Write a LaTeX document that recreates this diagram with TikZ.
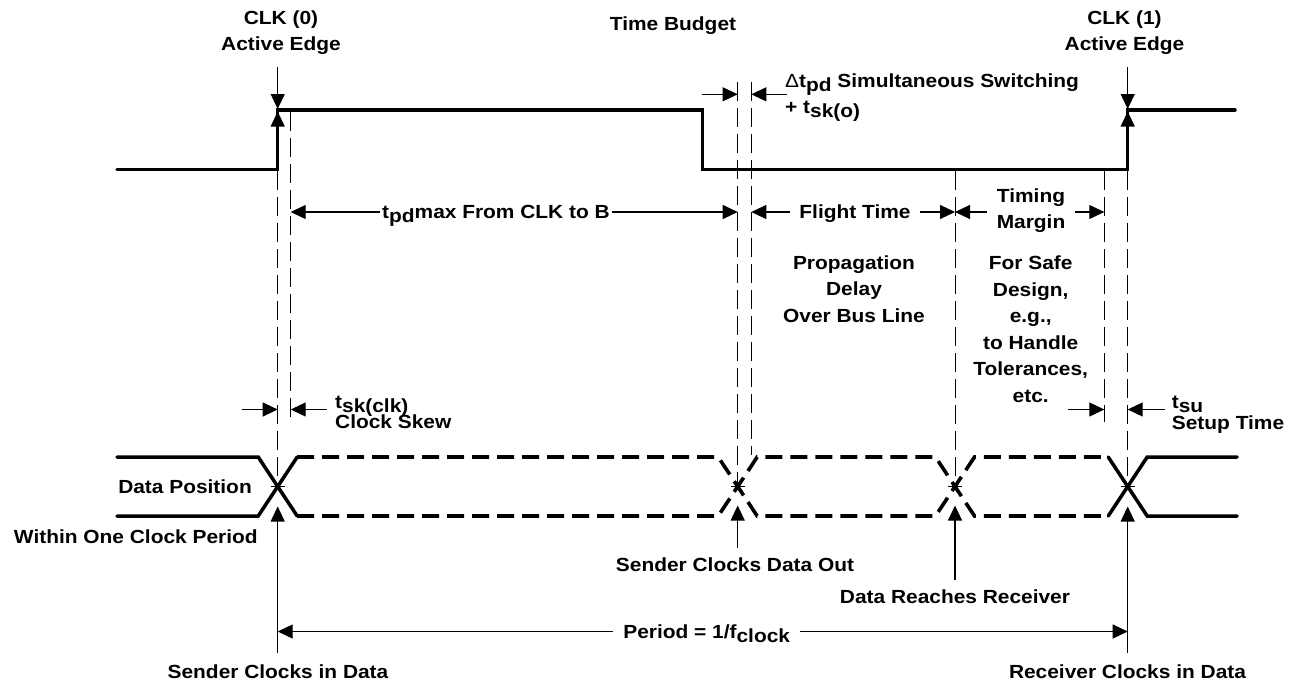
\documentclass[tikz,border=0pt]{standalone}
\usepackage{fontspec}
\setmainfont{Liberation Sans}[FakeStretch=1.1]
\usetikzlibrary{arrows.meta}
\newcommand{\lowsub}[1]{\raisebox{-4pt}{#1}}
\begin{document}
\begin{tikzpicture}[x=1pt,y=-1pt,
  lbl/.style={font=\fontsize{19}{26.5}\selectfont\bfseries, inner sep=0pt},
  sig/.style={line width=3.5pt, line cap=round},
  sigdash/.style={line width=3.6pt, dash pattern=on 17pt off 8pt},
  thinl/.style={line width=1.1pt},
  dimarrow/.style={line width=1.1pt, -{Triangle[length=15pt,width=14pt]}},
  vdash/.style={line width=1pt, dash pattern=on 19pt off 7pt},
]
\useasboundingbox (0,0) rectangle (1300,683);
\fill[white] (0,0) rectangle (1300,683);

% x positions of the event lines
\coordinate (vA)  at (277.7,0);
\coordinate (vA2) at (290.7,0);
\coordinate (vB)  at (737.7,0);
\coordinate (vB2) at (751.3,0);
\coordinate (vC)  at (955,0);
\coordinate (vD1) at (1104.3,0);
\coordinate (vD)  at (1127.7,0);
% rows
\coordinate (rowD) at (0,94.3);
\coordinate (rowA) at (0,212);
\coordinate (rowS) at (0,409.5);
\coordinate (rowP) at (0,631.5);

% ---------------- clock waveform
\draw[sig] (117,169.3) -- (277.7,169.3) -- (277.7,110) -- (702.7,110) -- (702.7,169.3) -- (1127.7,169.3) -- (1127.7,110) -- (1235,110);

% top labels (anchor base = baseline of last line)
\node[lbl, align=center, anchor=base] (clk0) at (281,50.7) {CLK (0)\\Active Edge};
\node[lbl, align=center, anchor=base] (clk1) at (1124.5,50.7) {CLK (1)\\Active Edge};
\node[lbl, anchor=base] (tb) at (673,30) {Time Budget};

\coordinate (d0) at (277.7,67);
\coordinate (d1) at (1127.7,67);
\draw[dimarrow] (d0) -- (vA |- 0,109);
\draw[dimarrow] (d1) -- (vD |- 0,109);
\draw[dimarrow] (vA |- 0,135) -- (vA |- 0,111.5);
\draw[dimarrow] (vD |- 0,135) -- (vD |- 0,111.5);

% ---------------- dashed event lines
\draw[vdash] (277.7,171) -- (277.7,486.7);
\draw[vdash] (290.7,112) -- (290.7,421.7);
\draw[vdash] (737.7,82) -- (737.7,486.7);
\draw[vdash] (751.3,82) -- (751.3,455);
\draw[vdash] (955,171) -- (955,486.7);
\draw[vdash] (1104.3,171) -- (1104.3,421.7);
\draw[vdash] (1127.7,171) -- (1127.7,486.7);

% ---------------- delta t_pd
\node[lbl, align=left, anchor=base west] (dtpd) at (785,113.5) {{\mdseries Δ}t\lowsub{pd} Simultaneous Switching\\+ t\lowsub{sk(o)}};
\coordinate (dl) at (701.7,94.3);
\coordinate (dr) at (786.7,94.3);
\draw[dimarrow] (dl) -- (vB |- rowD);
\draw[dimarrow] (dr) -- (vB2 |- rowD);

% ---------------- row A: tpd / flight time / timing margin
\node[lbl, inner xsep=2pt, anchor=base west] (tpd) at (380,218.5) {t\lowsub{pd}max From CLK to B};
\draw[dimarrow] (tpd.west |- rowA) -- (vA2 |- rowA);
\draw[dimarrow] (tpd.east |- rowA) -- (vB |- rowA);

\node[lbl, inner xsep=9pt, anchor=base] (ft) at (855,218) {Flight Time};
\draw[dimarrow] (ft.west |- rowA) -- (vB2 |- rowA);
\draw[dimarrow] (ft.east |- rowA) -- (vC |- rowA);

\node[lbl, inner xsep=10pt, align=center, anchor=base] (tm) at (1031,228.5) {Timing\\Margin};
\draw[dimarrow] (tm.west |- rowA) -- (vC |- rowA);
\draw[dimarrow] (tm.east |- rowA) -- (vD1 |- rowA);

\node[lbl, align=center, anchor=base] (prop) at (854,322) {Propagation\\Delay\\Over Bus Line};
\node[lbl, align=center, anchor=base] (safe) at (1030.7,402) {For Safe\\Design,\\e.g.,\\to Handle\\Tolerances,\\etc.};

% ---------------- skew / setup
\node[lbl, inner xsep=8pt, anchor=base west] (tsk) at (327,408) {t\lowsub{sk(clk)}};
\node[lbl, anchor=base west] (tskb) at (335,428.5) {Clock Skew};
\coordinate (skl) at (241.7,409.5);
\draw[dimarrow] (skl) -- (vA |- rowS);
\draw[dimarrow] (tsk.west |- rowS) -- (vA2 |- rowS);

\node[lbl, inner xsep=6.7pt, anchor=base west] (tsu) at (1165,408) {t\lowsub{su}};
\node[lbl, anchor=base west] (tsub) at (1171.7,429.5) {Setup Time};
\coordinate (sul) at (1068,409.5);
\draw[dimarrow] (sul) -- (vD1 |- rowS);
\draw[dimarrow] (tsu.west |- rowS) -- (vD |- rowS);

% ---------------- data waveform
\draw[sig] (117,457) -- (258.2,457) -- (297.2,516);
\draw[sig] (117,516) -- (258.2,516) -- (297.2,457);
\draw[sigdash] (297.2,457) -- (718.2,457) -- (757.2,516) -- (935.5,516) -- (974.5,457) -- (1108.2,457);
\draw[sigdash] (297.2,516) -- (718.2,516) -- (757.2,457) -- (935.5,457) -- (974.5,516) -- (1108.2,516);
\draw[sig] (1108.2,457) -- (1147.2,516) -- (1237,516);
\draw[sig] (1108.2,516) -- (1147.2,457) -- (1237,457);

\foreach \xx in {277.7,737.7,955,1127.7}{
  \draw[thinl] (\xx-7,486.7) -- (\xx+7,486.7);
}

\node[lbl, anchor=base east] (dpos) at (252,493.5) {Data Position};
\node[lbl, anchor=base] (within) at (135.8,543.5) {Within One Clock Period};

% ---------------- bottom labels and pointers
\node[lbl, anchor=base] (sdo) at (735,571) {Sender Clocks Data Out};
\node[lbl, anchor=base] (drr) at (955,603.5) {Data Reaches Receiver};
\node[lbl, anchor=base] (sci) at (278,678.5) {Sender Clocks in Data};
\node[lbl, anchor=base] (rci) at (1127.5,678.5) {Receiver Clocks in Data};

\draw[dimarrow, shorten <=12pt] (vA |- sci.north) -- (vA |- 0,506.5);
\draw[dimarrow, shorten <=9.5pt] (vB |- sdo.north) -- (vB |- 0,505.5);
\draw[dimarrow, shorten <=10pt] (vC |- drr.north) -- (vC |- 0,505.5);
\draw[dimarrow, shorten <=12pt] (vD |- rci.north) -- (vD |- 0,506.5);

% ---------------- period
\node[lbl, inner xsep=10pt, anchor=base] (per) at (706.7,638.5) {Period = 1/f\lowsub{clock}};
\draw[dimarrow] (per.west |- rowP) -- (vA |- rowP);
\draw[dimarrow] (per.east |- rowP) -- (vD |- rowP);
\end{tikzpicture}
\end{document}
